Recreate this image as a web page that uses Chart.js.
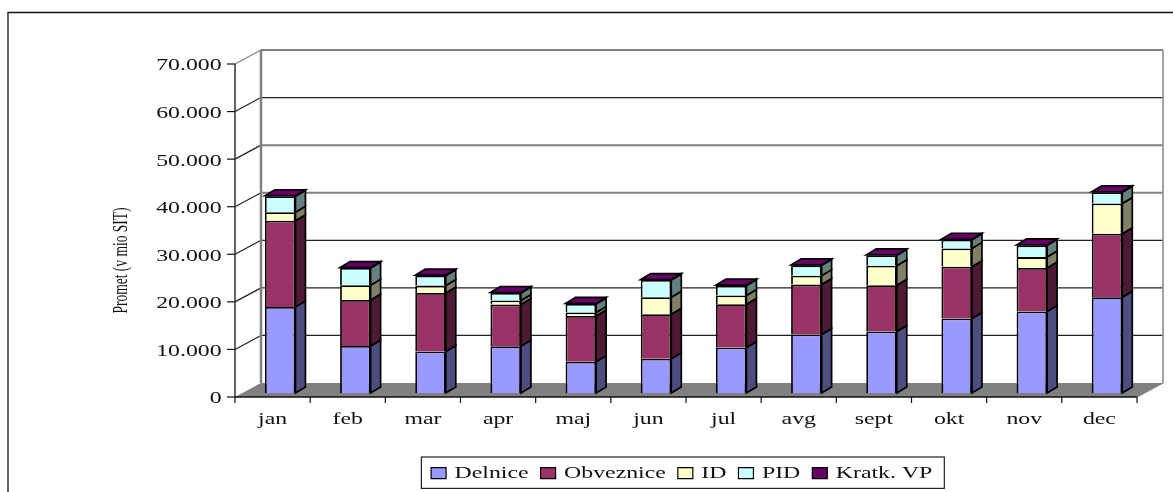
<!DOCTYPE html>
<html><head><meta charset="utf-8">
<style>html,body{margin:0;padding:0;background:#fff;overflow:hidden}canvas{display:block}</style>
<script src="https://cdn.jsdelivr.net/npm/chart.js@4"></script>
</head><body>
<canvas id="c" width="1173" height="492"></canvas>
<script>
const categories = ['jan','feb','mar','apr','maj','jun','jul','avg','sept','okt','nov','dec'];
const delnice    = [18100, 9900, 8740, 9850, 6560, 7190, 9580,12300,12930,15660,17130,20130];
const obveznice  = [18100, 9660,12290, 8750, 9640, 9370, 9080,10490, 9710,10900, 9140,13350];
const id         = [ 1800, 3080, 1550,  830,  710, 3570, 1820, 1880, 4130, 3840, 2300, 6350];
const pid        = [ 3360, 3630, 2090, 1600, 1810, 3620, 2100, 2160, 2160, 1820, 2460, 2370];
const kratkVP    = [  100,  100,  100,  100,  100,  100,  100,  100,  100,  100,  100,  100];
const seriesNames = ['Delnice','Obveznice','ID','PID','Kratk. VP'];
const yMax = 70000, yStep = 10000;

const FILL = ['#9999FF','#993366','#FFFFCC','#CCFFFF','#660066'];
const SIDE = ['#4D4D80','#4D1A33','#808066','#668080','#330033'];
const STRETCH = 1.40;
const FONT = 'Liberation Serif';
const DEPTH = {x:10, y:6};          // bar depth
const FRONT = {x:-7.6, y:4};        // front axis plane relative to bar plane
const BACK  = {x:18.4, y:-10};      // back wall relative to bar plane

const stretchText = {
  id:'stretchText',
  beforeInit(chart){
    const ctx = chart.ctx, ft = ctx.fillText.bind(ctx), mt = ctx.measureText.bind(ctx);
    ctx.fillText = function(t,x,y,w){
      const m = ctx.getTransform();
      ctx.save();
      if (Math.abs(m.b) > 0.01) {       // rotated axis title
        ctx.translate(x-34,y); ctx.scale(0.9,1.45); ft(t,0,0);
      } else {
        ctx.translate(x,y); ctx.scale(STRETCH,1); ft(t,0,0);
      }
      ctx.restore();
    };
    ctx.measureText = function(t){
      const r = mt(t);
      return {width:r.width*STRETCH, actualBoundingBoxAscent:r.actualBoundingBoxAscent, actualBoundingBoxDescent:r.actualBoundingBoxDescent};
    };
  }
};

function line(ctx,x1,y1,x2,y2,col,w){
  ctx.strokeStyle=col; ctx.lineWidth=w; ctx.beginPath(); ctx.moveTo(x1,y1); ctx.lineTo(x2,y2); ctx.stroke();
}
function poly(ctx,pts,fill,stroke,w){
  ctx.beginPath(); pts.forEach((p,i)=> i?ctx.lineTo(p[0],p[1]):ctx.moveTo(p[0],p[1])); ctx.closePath();
  if(fill){ctx.fillStyle=fill;ctx.fill();}
  if(stroke){ctx.strokeStyle=stroke;ctx.lineWidth=w;ctx.lineJoin='miter';ctx.stroke();}
}

const frame3d = {
  id:'frame3d',
  afterLayout(chart){
    const lg=chart.legend;
    const dx=681.7-(lg.left+lg.right)/2, dy=452.7-lg.top;
    lg.left+=dx; lg.right+=dx; lg.top+=dy; lg.bottom+=dy;
    lg.legendHitBoxes.forEach(h=>{h.left+=dx; h.top+=dy;});
  },
  beforeDatasetsDraw(chart){
    const ctx=chart.ctx, ys=chart.scales.y, xs=chart.scales.x;
    const L=xs.left, R=xs.right, y0=ys.getPixelForValue(0);
    ctx.save();
    // sheet border: left and top only
    line(ctx,7.5,12.5,1173,12.5,'#111',1.5);
    line(ctx,8,12,8,492,'#333',1.5);
    // floor
    poly(ctx,[[L+FRONT.x,y0+FRONT.y],[L+BACK.x,y0+BACK.y],[R+BACK.x,y0+BACK.y],[R+FRONT.x,y0+FRONT.y]],'#808080');
    // gridlines on the walls
    ys.ticks.forEach(t=>{
      const py=ys.getPixelForValue(t.value);
      if(t.value>0){
        const gray = t.value===yMax||t.value===50000||t.value===40000;
        line(ctx,L+BACK.x,py+BACK.y,R+BACK.x,py+BACK.y,gray?'#808080':'#222',gray?2:1.2);
        line(ctx,L+FRONT.x,py+FRONT.y,L+BACK.x,py+BACK.y,t.value===yMax?'#808080':'#222',1.2);
      }
      line(ctx,L+FRONT.x-8,py+FRONT.y,L+FRONT.x,py+FRONT.y,'#111',1.2);
    });
    // back walls
    line(ctx,L+BACK.x,ys.top+BACK.y,L+BACK.x,y0+BACK.y,'#808080',2.5);
    line(ctx,R+BACK.x,ys.top+BACK.y,R+BACK.x,y0+BACK.y,'#999',1.8);
    line(ctx,R+FRONT.x,y0+FRONT.y,R+BACK.x,y0+BACK.y,'#808080',1.2);
    // front axes
    line(ctx,L+FRONT.x,ys.top+FRONT.y,L+FRONT.x,y0+FRONT.y,'#222',1.4);
    line(ctx,L+FRONT.x,y0+FRONT.y,R+FRONT.x,y0+FRONT.y,'#111',1.4);
    const band=(R-L)/categories.length;
    for(let i=0;i<=categories.length;i++){
      const px=L+FRONT.x+band*i;
      line(ctx,px,y0+FRONT.y,px,y0+FRONT.y+6,'#111',1.2);
    }
    // bar sides and tops
    const n=chart.data.datasets.length;
    for(let d=0;d<n;d++){
      chart.getDatasetMeta(d).data.forEach(b=>{
        const r=b.x+b.width/2, l=b.x-b.width/2;
        poly(ctx,[[r,b.y],[r+DEPTH.x,b.y-DEPTH.y],[r+DEPTH.x,b.base-DEPTH.y],[r,b.base]],SIDE[d],'#000',1.7);
        if(d===n-1) poly(ctx,[[l,b.y],[l+DEPTH.x,b.y-DEPTH.y],[r+DEPTH.x,b.y-DEPTH.y],[r,b.y]],FILL[d],'#000',1.7);
      });
    }
    ctx.restore();
  },
  afterDraw(chart){
    const ctx=chart.ctx, hb=chart.legend.legendHitBoxes;
    if(!hb.length) return;
    const last=hb[hb.length-1];
    const l=hb[0].left-9.7, r=last.left+last.width+12;
    const t=hb[0].top-10.4;
    ctx.save(); ctx.strokeStyle='#222'; ctx.lineWidth=1.2;
    ctx.strokeRect(l,t,r-l,31.4); ctx.restore();
  }
};

const values=[delnice,obveznice,id,pid,kratkVP];
new Chart(document.getElementById('c'),{
  type:'bar',
  plugins:[stretchText,frame3d],
  data:{labels:categories,datasets:seriesNames.map((name,i)=>({
    label:name,data:values[i],backgroundColor:FILL[i],borderColor:'#000',borderWidth:1.8,
    barPercentage:0.406,categoryPercentage:1
  }))},
  options:{
    responsive:false,animation:false,
    layout:{padding:{left:112,right:28.4,top:60,bottom:3}},
    plugins:{
      title:{display:false},tooltip:{enabled:false},
      legend:{display:true,position:'bottom',
        labels:{color:'#111',font:{family:FONT,size:17},boxWidth:15,boxHeight:11,padding:12,
          generateLabels(c){return c.data.datasets.map((d,i)=>({text:d.label,fillStyle:FILL[i],strokeStyle:'#000',lineWidth:1.2,datasetIndex:i,fontColor:'#111'}));}}
      }
    },
    scales:{
      x:{stacked:true,grid:{display:false},border:{display:false},
        afterFit(s){s.height=57;},
        ticks:{color:'#111',font:{family:FONT,size:17},padding:8,labelOffset:-7.6,maxRotation:0,autoSkip:false}},
      y:{stacked:true,min:0,max:yMax,grid:{display:false},border:{display:false},
        afterFit(s){s.width=130.6;},
        title:{display:true,text:'Promet (v mio SIT)',color:'#111',font:{family:FONT,size:15},padding:{top:0,bottom:0}},
        ticks:{color:'#111',font:{family:FONT,size:17},padding:13,stepSize:yStep,labelOffset:6,
          callback:v=>v.toLocaleString('de-DE')}}
    }
  }
});
</script>
</body></html>
